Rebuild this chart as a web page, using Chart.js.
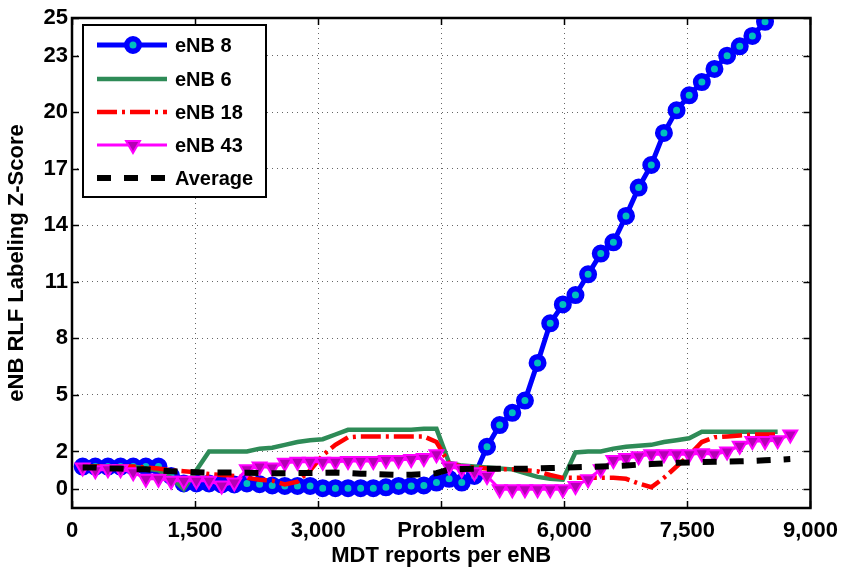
<!DOCTYPE html>
<html>
<head>
<meta charset="utf-8">
<title>eNB RLF Labeling Z-Score</title>
<script src="https://cdn.jsdelivr.net/npm/chart.js@4.4.1/dist/chart.umd.min.js"></script>
<style>
  html, body { margin: 0; padding: 0; background: #fff; }
  #wrap { width: 848px; height: 570px; }
</style>
</head>
<body>
<div id="wrap"><canvas id="zChart" width="848" height="570"></canvas></div>
<script>
// MDT report counts where each eNB was sampled (shared x positions)
const mdtReports = [130, 284, 438, 592, 746, 900, 1054, 1208, 1362, 1516,
  1670, 1824, 1978, 2132, 2286, 2440, 2594, 2748, 2902, 3056,
  3210, 3364, 3518, 3672, 3826, 3980, 4134, 4288, 4442, 4596,
  4750, 4904, 5058, 5212, 5366, 5520, 5674, 5828, 5982, 6136,
  6290, 6444, 6598, 6752, 6906, 7060, 7214, 7368, 7522, 7676,
  7830, 7984, 8138, 8292, 8446, 8600, 8754];

// Z-scores
const enb8 = [1.2, 1.2, 1.2, 1.2, 1.2, 1.2, 1.2, 0.7, 0.3, 0.3,
  0.3, 0.25, 0.25, 0.3, 0.26, 0.2, 0.17, 0.17, 0.17, 0.05,
  0.05, 0.05, 0.05, 0.05, 0.1, 0.17, 0.17, 0.2, 0.35, 0.55,
  0.35, 0.7, 2.25, 3.4, 4.05, 4.7, 6.7, 8.8, 9.8, 10.3,
  11.4, 12.5, 13.1, 14.5, 16.0, 17.2, 18.9, 20.1, 20.9, 21.6,
  22.3, 23.0, 23.5, 24.05, 24.8];
const enb6 = [1.2, 1.2, 1.2, 1.2, 1.2, 1.1, 1.0, 0.6, 0.0, 1.0,
  2.0, 2.0, 2.0, 2.0, 2.15, 2.2, 2.35, 2.5, 2.6, 2.65,
  2.9, 3.15, 3.15, 3.15, 3.15, 3.15, 3.15, 3.2, 3.2, 1.4,
  1.25, 1.2, 1.15, 1.1, 1.05, 0.85, 0.65, 0.55, 0.5, 1.95,
  2.0, 2.0, 2.15, 2.25, 2.3, 2.35, 2.5, 2.6, 2.7, 3.05,
  3.05, 3.05, 3.05, 3.05, 3.05, 3.05];
const enb18 = [1.2, 1.2, 1.2, 1.2, 1.2, 1.15, 1.1, 1.0, 0.95, 0.9,
  0.8, 0.75, 0.7, 0.6, 0.5, 0.45, 0.25, 0.4, 1.0, 1.8,
  2.35, 2.75, 2.8, 2.8, 2.8, 2.8, 2.8, 2.8, 2.5, 1.35,
  1.2, 1.15, 1.1, 1.05, 1.05, 1.0, 0.95, 0.75, 0.6, 0.6,
  0.6, 0.6, 0.6, 0.55, 0.3, 0.1, 0.6, 1.2, 1.8, 2.5,
  2.75, 2.8, 2.85, 2.9, 2.9, 2.9];
const enb43 = [1.15, 1.0, 1.05, 1.05, 0.9, 0.55, 0.55, 0.45, 0.45, 0.45,
  0.45, 0.2, 0.35, 1.05, 1.2, 1.15, 1.4, 1.45, 1.45, 1.45,
  1.45, 1.5, 1.5, 1.5, 1.55, 1.55, 1.6, 1.65, 1.85, 1.2,
  1.05, 0.9, 0.7, 0.0, 0.0, 0.0, 0.0, 0.0, 0.0, 0.17,
  0.53, 1.05, 1.55, 1.65, 1.75, 1.85, 1.85, 1.85, 1.85, 1.9,
  1.85, 2.0, 2.3, 2.55, 2.55, 2.6, 2.9];
const average = [1.15, 1.15, 1.1, 1.1, 1.05, 1.05, 1.0, 0.95, 0.92, 0.9,
  0.88, 0.88, 0.88, 0.87, 0.86, 0.85, 0.84, 0.85, 0.86, 0.87,
  0.88, 0.86, 0.82, 0.8, 0.78, 0.76, 0.77, 0.79, 0.85, 1.05,
  1.07, 1.08, 1.08, 1.08, 1.08, 1.08, 1.1, 1.12, 1.14, 1.16,
  1.18, 1.2, 1.22, 1.25, 1.3, 1.33, 1.37, 1.4, 1.42, 1.44,
  1.45, 1.46, 1.48, 1.5, 1.53, 1.56, 1.6];

// Axis ticks
const xTicks = [0, 1500, 3000, 4500, 6000, 7500, 9000];
const xTickLabels = ['0', '1,500', '3,000', 'Problem', '6,000', '7,500', '9,000'];
const yTicks = [0, 2, 5, 8, 11, 14, 17, 20, 23, 25];

const FONT = "'Liberation Sans', Arial, Helvetica, sans-serif";

function toPoints(values) {
  return values.map((v, i) => ({ x: mdtReports[i], y: v }));
}

// Box around the axes plus inward tick marks on all four sides (MATLAB style)
const frameBox = {
  id: 'frameBox',
  afterDatasetsDraw(chart) {
    const { ctx, chartArea: a, scales } = chart;
    ctx.save();
    ctx.strokeStyle = '#000';
    ctx.lineWidth = 1.5;
    ctx.beginPath();
    xTicks.forEach(v => {
      const px = Math.round(scales.x.getPixelForValue(v)) + 0.5;
      ctx.moveTo(px, a.bottom); ctx.lineTo(px, a.bottom - 7);
      ctx.moveTo(px, a.top); ctx.lineTo(px, a.top + 7);
    });
    yTicks.forEach(v => {
      const py = Math.round(scales.y.getPixelForValue(v)) + 0.5;
      ctx.moveTo(a.left, py); ctx.lineTo(a.left + 7, py);
      ctx.moveTo(a.right, py); ctx.lineTo(a.right - 7, py);
    });
    ctx.stroke();
    ctx.lineWidth = 2.5;
    ctx.strokeRect(a.left, a.top, a.right - a.left, a.bottom - a.top);
    ctx.restore();
  }
};

// Legend in a bordered box, drawn from the dataset styles
const boxLegend = {
  id: 'boxLegend',
  afterDraw(chart) {
    const ctx = chart.ctx;
    const left = 83, top = 25, w = 183, h = 172;
    const rowY = [45, 79, 112, 145, 178];
    ctx.save();
    ctx.fillStyle = '#fff';
    ctx.fillRect(left, top, w, h);
    ctx.strokeStyle = '#000';
    ctx.lineWidth = 2;
    ctx.strokeRect(left, top, w, h);

    chart.data.datasets.forEach((ds, i) => {
      const y = rowY[i];
      ctx.save();
      ctx.strokeStyle = ds.borderColor;
      ctx.lineWidth = ds.borderWidth;
      ctx.setLineDash(ds.borderDash || []);
      ctx.beginPath();
      ctx.moveTo(97, y);
      ctx.lineTo(167, y);
      ctx.stroke();
      ctx.setLineDash([]);
      if (ds.pointStyle === 'circle') {
        ctx.beginPath();
        ctx.arc(133, y, ds.pointRadius, 0, Math.PI * 2);
        ctx.fillStyle = ds.pointBackgroundColor;
        ctx.fill();
        ctx.strokeStyle = ds.pointBorderColor;
        ctx.lineWidth = ds.pointBorderWidth;
        ctx.stroke();
      } else if (ds.pointStyle === 'triangle') {
        const r = ds.pointRadius;
        ctx.beginPath();
        ctx.moveTo(133, y + r);
        ctx.lineTo(133 - r * 0.866, y - r / 2);
        ctx.lineTo(133 + r * 0.866, y - r / 2);
        ctx.closePath();
        ctx.fillStyle = ds.pointBackgroundColor;
        ctx.fill();
        ctx.strokeStyle = ds.pointBorderColor;
        ctx.lineWidth = ds.pointBorderWidth;
        ctx.stroke();
      }
      ctx.restore();
      ctx.fillStyle = '#000';
      ctx.font = 'bold 20px ' + FONT;
      ctx.textBaseline = 'middle';
      ctx.textAlign = 'left';
      ctx.fillText(ds.label, 175, y + 1);
    });
    ctx.restore();
  }
};

function createChart() {
  const ctx = document.getElementById('zChart').getContext('2d');

  new Chart(ctx, {
    type: 'line',
    data: {
      datasets: [
        {
          label: 'eNB 8',
          data: toPoints(enb8),
          borderColor: '#0000ff',
          borderWidth: 5,
          pointStyle: 'circle',
          pointRadius: 6.25,
          pointBorderWidth: 5.5,
          pointBackgroundColor: '#00bfbf',
          pointBorderColor: '#0000ff',
          order: 4
        },
        {
          label: 'eNB 6',
          data: toPoints(enb6),
          borderColor: '#2e8b57',
          borderWidth: 4.5,
          pointRadius: 0,
          order: 3
        },
        {
          label: 'eNB 18',
          data: toPoints(enb18),
          borderColor: '#ff0000',
          borderWidth: 4.5,
          borderDash: [20, 5, 3, 5],
          pointRadius: 0,
          order: 2
        },
        {
          label: 'eNB 43',
          data: toPoints(enb43),
          borderColor: '#ff00ff',
          borderWidth: 3,
          pointStyle: 'triangle',
          rotation: 180,
          pointRadius: 8,
          pointBorderWidth: 2,
          pointBackgroundColor: '#b400b4',
          pointBorderColor: '#ff00ff',
          order: 1
        },
        {
          label: 'Average',
          data: toPoints(average),
          borderColor: '#000000',
          borderWidth: 6,
          borderDash: [14, 13],
          pointRadius: 0,
          order: 0
        }
      ]
    },
    options: {
      responsive: false,
      animation: false,
      events: [],
      layout: { padding: { top: 18, right: 30, left: 0, bottom: 0 } },
      elements: { line: { tension: 0, fill: false, borderCapStyle: 'butt' } },
      plugins: {
        legend: { display: false },
        tooltip: { enabled: false }
      },
      scales: {
        x: {
          type: 'linear',
          min: 0,
          max: 9000,
          afterBuildTicks: scale => { scale.ticks = xTicks.map(v => ({ value: v })); },
          afterFit: scale => { scale.height = 62; },
          ticks: {
            color: '#000',
            padding: 10,
            maxRotation: 0,
            autoSkip: false,
            font: { family: FONT, size: 22, weight: 'bold' },
            callback: (value) => xTickLabels[xTicks.indexOf(value)]
          },
          grid: { color: 'rgba(0,0,0,0.6)', lineWidth: 1, drawTicks: false },
          border: { display: false, dash: [1, 4] },
          title: {
            display: true,
            text: 'MDT reports per eNB',
            color: '#000',
            font: { family: FONT, size: 22, weight: 'bold' },
            padding: { top: 0, bottom: 1 }
          }
        },
        y: {
          type: 'linear',
          min: -1,
          max: 25,
          afterBuildTicks: scale => { scale.ticks = yTicks.map(v => ({ value: v })); },
          afterFit: scale => { scale.width = 72; },
          ticks: {
            color: '#000',
            padding: 4,
            autoSkip: false,
            font: { family: FONT, size: 22, weight: 'bold' }
          },
          grid: { color: 'rgba(0,0,0,0.6)', lineWidth: 1, drawTicks: false },
          border: { display: false, dash: [1, 4] },
          title: {
            display: true,
            text: 'eNB RLF Labeling Z-Score',
            color: '#000',
            font: { family: FONT, size: 22, weight: 'bold' },
            padding: { top: 4, bottom: 0 }
          }
        }
      }
    },
    plugins: [frameBox, boxLegend]
  });
}

window.onload = function() {
  createChart();
};
</script>
</body>
</html>
